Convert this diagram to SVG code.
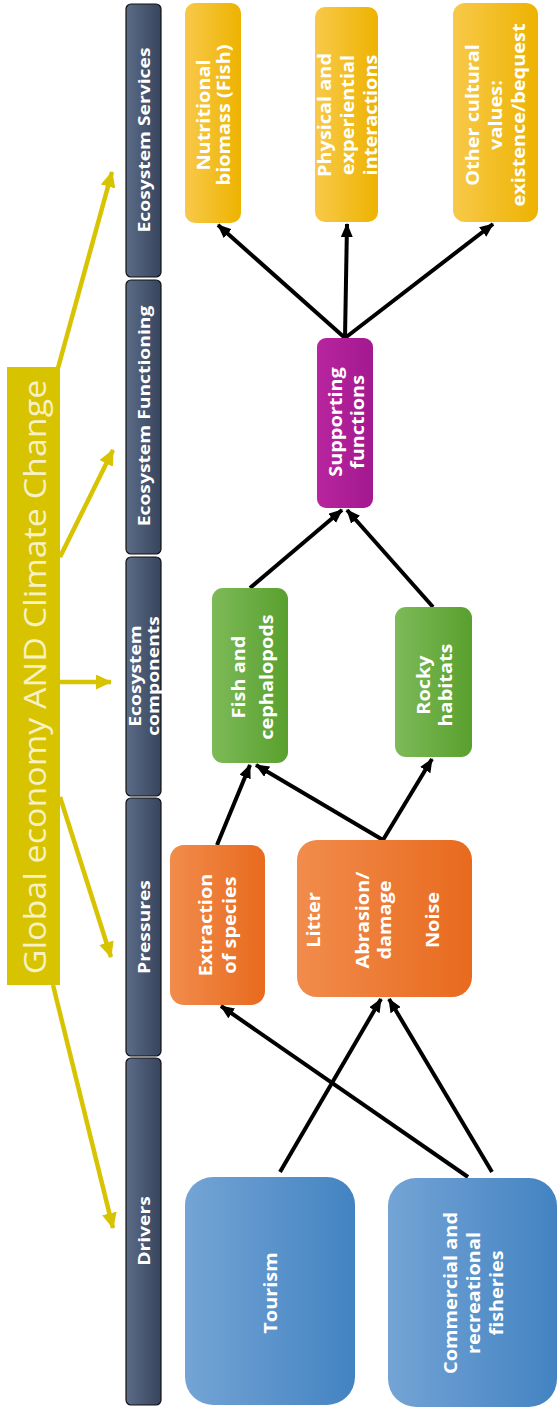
<svg xmlns="http://www.w3.org/2000/svg" width="557" height="1408" viewBox="0 0 557 1408">
<defs>
<linearGradient id="gHead" x1="0" y1="0" x2="1" y2="0"><stop offset="0" stop-color="#5C6C87"/><stop offset="1" stop-color="#37445D"/></linearGradient>
<linearGradient id="gYel" x1="0" y1="0" x2="1" y2="0"><stop offset="0" stop-color="#F8C94A"/><stop offset="1" stop-color="#EDB300"/></linearGradient>
<linearGradient id="gPur" x1="0" y1="0" x2="1" y2="0"><stop offset="0" stop-color="#B8259F"/><stop offset="1" stop-color="#A3198F"/></linearGradient>
<linearGradient id="gGrn" x1="0" y1="0" x2="1" y2="0"><stop offset="0" stop-color="#7DBA58"/><stop offset="1" stop-color="#59A02E"/></linearGradient>
<linearGradient id="gOra" x1="0" y1="0" x2="1" y2="0"><stop offset="0" stop-color="#F18C4C"/><stop offset="1" stop-color="#E86A1E"/></linearGradient>
<linearGradient id="gBlu" x1="0" y1="0" x2="1" y2="0"><stop offset="0" stop-color="#74A4D5"/><stop offset="1" stop-color="#4383C2"/></linearGradient>
<marker id="ah" viewBox="0 0 14 12" refX="13" refY="6" markerWidth="14" markerHeight="12" markerUnits="userSpaceOnUse" orient="auto"><path d="M0,0 L14,6 L0,12 Z" fill="#000"/></marker>
<marker id="ay" viewBox="0 0 16 15" refX="15" refY="7.5" markerWidth="16" markerHeight="15" markerUnits="userSpaceOnUse" orient="auto"><path d="M0,0 L16,7.5 L0,15 Z" fill="#D8C300"/></marker>
</defs>
<style>
.hd{fill:url(#gHead);stroke:#111;stroke-width:1.2}
.ht{font-family:"Open Sans","DejaVu Sans",sans-serif;font-weight:bold;font-size:16.5px;fill:#fff;text-anchor:middle;dominant-baseline:central}
.bt{font-family:"Open Sans","DejaVu Sans",sans-serif;font-weight:bold;font-size:17px;fill:#fff;text-anchor:middle;dominant-baseline:central}
.cn{stroke:#000;stroke-width:4;fill:none;marker-end:url(#ah)}
.yc{stroke:#D8C300;stroke-width:4.5;fill:none;marker-end:url(#ay)}
</style>
<rect width="557" height="1408" fill="#fff"/>

<g id="global">
<rect x="7" y="367" width="53" height="618" fill="#D8C300"/>
<text transform="translate(34,677) rotate(-90) scale(1.08,1)" font-family="'Open Sans','DejaVu Sans',sans-serif" font-size="31.5" fill="#F7F1C4" text-anchor="middle" dominant-baseline="central">Global economy AND Climate Change</text>
</g>

<g id="yellow-arrows">
<line class="yc" x1="58" y1="368" x2="112" y2="172"/>
<line class="yc" x1="60" y1="557" x2="113" y2="450"/>
<line class="yc" x1="60" y1="682" x2="111" y2="682"/>
<line class="yc" x1="60" y1="797" x2="111" y2="957"/>
<line class="yc" x1="53" y1="985" x2="113" y2="1228"/>
</g>

<g id="h-services"><rect class="hd" x="126" y="4" width="35" height="273" rx="5"/><text class="ht" transform="translate(143.5,140) rotate(-90) scale(1.17,1)">Ecosystem Services</text></g>
<g id="h-functioning"><rect class="hd" x="126" y="280" width="35" height="274" rx="5"/><text class="ht" transform="translate(143.5,416) rotate(-90) scale(1.17,1)">Ecosystem Functioning</text></g>
<g id="h-components"><rect class="hd" x="126" y="557" width="35" height="239" rx="5"/><g transform="translate(143.5,676) rotate(-90) scale(1.17,1)"><text class="ht" y="-9">Ecosystem</text><text class="ht" y="9">components</text></g></g>
<g id="h-pressures"><rect class="hd" x="126" y="798" width="35" height="258" rx="5"/><text class="ht" transform="translate(143.5,927) rotate(-90) scale(1.17,1)">Pressures</text></g>
<g id="h-drivers"><rect class="hd" x="126" y="1058" width="35" height="347" rx="5"/><text class="ht" transform="translate(143.5,1231) rotate(-90) scale(1.17,1)">Drivers</text></g>

<g id="connectors">
<line class="cn" x1="280" y1="1172" x2="381" y2="999"/>
<line class="cn" x1="468" y1="1177" x2="221" y2="1006"/>
<line class="cn" x1="492" y1="1172" x2="389" y2="999"/>
<line class="cn" x1="217" y1="845" x2="250" y2="765"/>
<line class="cn" x1="383" y1="840" x2="256" y2="765"/>
<line class="cn" x1="383" y1="840" x2="432" y2="759"/>
<line class="cn" x1="250" y1="588" x2="342" y2="510"/>
<line class="cn" x1="433" y1="607" x2="347" y2="510"/>
<line class="cn" x1="345" y1="338" x2="218" y2="225"/>
<line class="cn" x1="345" y1="338" x2="347" y2="224"/>
<line class="cn" x1="345" y1="338" x2="493" y2="224"/>
</g>

<g id="n-nutritional"><rect x="185" y="3" width="56" height="220" rx="10" fill="url(#gYel)"/><g transform="translate(213,115) rotate(-90) scale(1.17,1)"><text class="bt" y="-10">Nutritional</text><text class="bt" y="10">biomass (Fish)</text></g></g>
<g id="n-physical"><rect x="315" y="7" width="63" height="215" rx="10" fill="url(#gYel)"/><g transform="translate(347,115) rotate(-90) scale(1.17,1)"><text class="bt" y="-23">Physical and</text><text class="bt" y="0">experiential</text><text class="bt" y="23">interactions</text></g></g>
<g id="n-cultural"><rect x="453" y="3" width="85" height="219" rx="12" fill="url(#gYel)"/><g transform="translate(495,115) rotate(-90) scale(1.17,1)"><text class="bt" y="-23">Other cultural</text><text class="bt" y="0">values:</text><text class="bt" y="23">existence/bequest</text></g></g>

<g id="n-supporting"><rect x="317" y="338" width="56" height="170" rx="9" fill="url(#gPur)"/><g transform="translate(346,422) rotate(-90) scale(1.17,1)"><text class="bt" y="-11">Supporting</text><text class="bt" y="11">functions</text></g></g>

<g id="n-fish"><rect x="212" y="588" width="76" height="175" rx="11" fill="url(#gGrn)"/><g transform="translate(252,677) rotate(-90) scale(1.17,1)"><text class="bt" y="-14">Fish and</text><text class="bt" y="14">cephalopods</text></g></g>
<g id="n-rocky"><rect x="395" y="607" width="77" height="150" rx="11" fill="url(#gGrn)"/><g transform="translate(434,685) rotate(-90) scale(1.17,1)"><text class="bt" y="-11">Rocky</text><text class="bt" y="11">habitats</text></g></g>

<g id="n-extraction"><rect x="170" y="845" width="95" height="160" rx="14" fill="url(#gOra)"/><g transform="translate(217,925) rotate(-90) scale(1.17,1)"><text class="bt" y="-12">Extraction</text><text class="bt" y="12">of species</text></g></g>
<g id="n-pressures"><rect x="297" y="840" width="175" height="157" rx="20" fill="url(#gOra)"/><g transform="translate(372,920) rotate(-90) scale(1.17,1)"><text class="bt" y="-59">Litter</text><text class="bt" y="-10">Abrasion/</text><text class="bt" y="12">damage</text><text class="bt" y="60">Noise</text></g></g>

<g id="n-tourism"><rect x="185" y="1177" width="170" height="228" rx="28" fill="url(#gBlu)"/><text class="bt" transform="translate(270,1293) rotate(-90) scale(1.17,1)">Tourism</text></g>
<g id="n-fisheries"><rect x="388" y="1178" width="169" height="229" rx="28" fill="url(#gBlu)"/><g transform="translate(473,1293) rotate(-90) scale(1.17,1)"><text class="bt" y="-23">Commercial and</text><text class="bt" y="0">recreational</text><text class="bt" y="23">fisheries</text></g></g>
</svg>
